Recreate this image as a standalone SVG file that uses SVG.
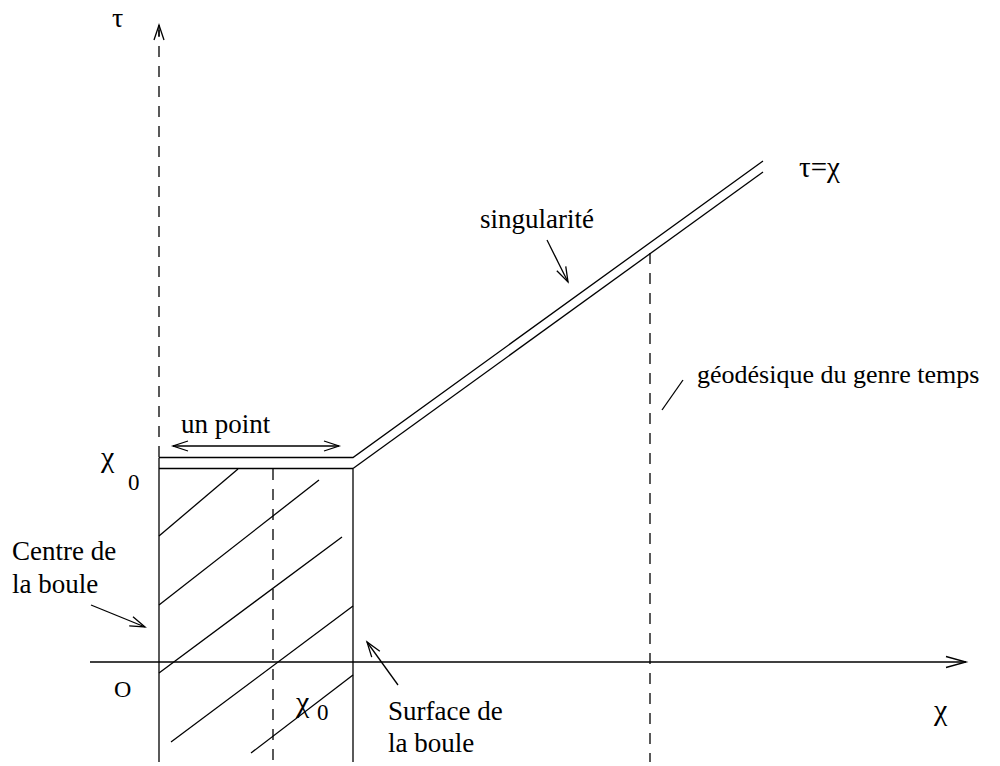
<svg xmlns="http://www.w3.org/2000/svg" width="1000" height="766" viewBox="0 0 1000 766">
<defs>
<style>
.ln{fill:none;stroke:#000;stroke-width:1.3}
.ds{fill:none;stroke:#000;stroke-width:1.3;stroke-dasharray:11 9}
.t{font-family:"Liberation Serif","Times New Roman",serif;font-size:27px;fill:#000}
.g{font-family:"Liberation Serif","Times New Roman",serif;font-size:30px;fill:#000}
</style>
<marker id="ah" markerUnits="userSpaceOnUse" markerWidth="24" markerHeight="14" refX="0" refY="0" viewBox="-18 -7 20 14" orient="auto" overflow="visible">
<path d="M-15,-5 L0,0 L-15,5" fill="none" stroke="#000" stroke-width="1.3"/>
</marker>
<marker id="ahL" markerUnits="userSpaceOnUse" markerWidth="24" markerHeight="14" refX="0" refY="0" viewBox="-22 -7 24 14" orient="auto" overflow="visible">
<path d="M-20,-5.5 L0,0 L-20,5.5" fill="none" stroke="#000" stroke-width="1.3"/>
</marker>
</defs>
<rect width="1000" height="766" fill="#fff"/>

<g id="axes">
<line class="ds" x1="159" y1="457" x2="159" y2="30"/>
<line class="ln" x1="159" y1="36" x2="159" y2="25" marker-end="url(#ah)"/>
<line class="ln" x1="90" y1="662" x2="966" y2="662" marker-end="url(#ahL)"/>
</g>

<g id="ball">
<line class="ln" x1="159" y1="457.5" x2="159" y2="762"/>
<line class="ln" x1="159" y1="468.5" x2="353" y2="468.5"/>
<line class="ln" x1="353" y1="468.5" x2="353" y2="762"/>
<line class="ds" x1="273" y1="469" x2="273" y2="762"/>
<g id="hatch">
<line class="ln" x1="159" y1="536" x2="238" y2="469"/>
<line class="ln" x1="159" y1="605" x2="319" y2="480"/>
<line class="ln" x1="159" y1="673" x2="342" y2="537"/>
<line class="ln" x1="171" y1="742" x2="353" y2="606"/>
<line class="ln" x1="251" y1="753" x2="353" y2="675"/>
</g>
</g>

<g id="singularity">
<polyline class="ln" points="159,457.5 353,457.5 763,161"/>
<line class="ln" x1="353" y1="468.5" x2="763" y2="172"/>
</g>

<g id="geodesic">
<line class="ds" x1="650" y1="253" x2="650" y2="762"/>
</g>

<g id="connectors">
<line class="ln" x1="176" y1="446" x2="173" y2="446" marker-end="url(#ah)"/>
<line class="ln" x1="173" y1="446" x2="339" y2="446" marker-end="url(#ah)"/>
<line class="ln" x1="547" y1="240" x2="568" y2="282" marker-end="url(#ah)"/>
<line class="ln" x1="91" y1="605" x2="145" y2="627" marker-end="url(#ah)"/>
<line class="ln" x1="398" y1="685" x2="367" y2="642" marker-end="url(#ah)"/>
<line class="ln" x1="662" y1="410" x2="683" y2="380"/>
</g>

<g id="labels">
<text class="g" x="112" y="27" style="font-size:28px">τ</text>
<text class="t" x="799" y="177" style="font-size:29px">τ=χ</text>
<text class="t" x="480" y="228">singularité</text>
<text class="t" x="697" y="383" style="font-size:26px">géodésique du genre temps</text>
<text class="t" x="181" y="433">un point</text>
<text class="g" x="101" y="467">χ</text>
<text class="t" x="128" y="490" style="font-size:23px">0</text>
<text class="t" x="12" y="560">Centre de</text>
<text class="t" x="12" y="593">la boule</text>
<text class="t" x="114" y="697" style="font-size:24px">O</text>
<text class="g" x="296" y="712">χ</text>
<text class="t" x="317" y="720" style="font-size:23px">0</text>
<text class="t" x="388" y="720">Surface de</text>
<text class="t" x="388" y="752">la boule</text>
<text class="g" x="934" y="720">χ</text>
</g>
</svg>
